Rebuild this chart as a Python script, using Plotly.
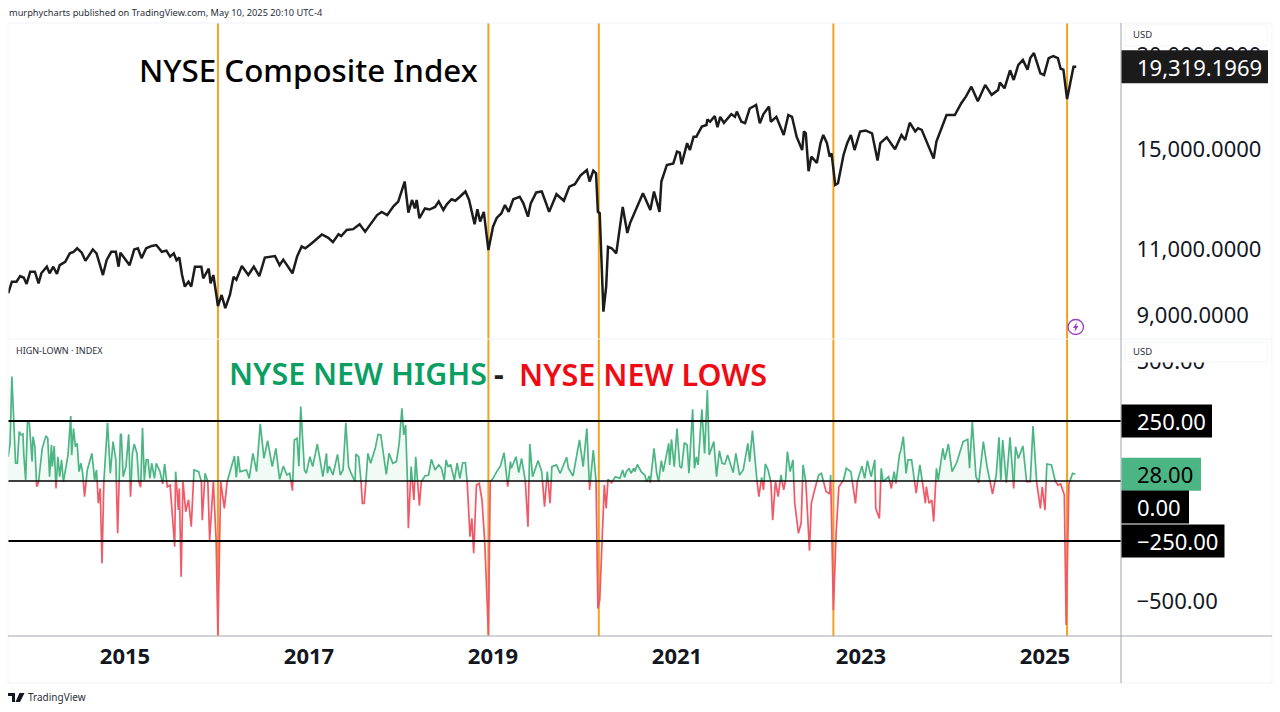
import math

import plotly.graph_objects as go

# NYSE Composite (decimal year, index level)
price_years = [2013.73,2013.77,2013.82,2013.86,2013.90,2013.93,2013.97,2014.02,2014.06,2014.09,2014.15,2014.18,2014.22,2014.26,2014.29,2014.35,2014.40,2014.44,2014.48,2014.53,2014.57,2014.60,2014.65,2014.69,2014.72,2014.76,2014.80,2014.85,2014.90,2014.93,2014.95,2015.01,2015.05,2015.10,2015.14,2015.18,2015.23,2015.29,2015.34,2015.40,2015.45,2015.49,2015.53,2015.56,2015.59,2015.62,2015.65,2015.69,2015.72,2015.76,2015.83,2015.85,2015.91,2015.93,2015.96,2015.99,2016.01,2016.05,2016.09,2016.14,2016.18,2016.21,2016.27,2016.34,2016.40,2016.46,2016.52,2016.63,2016.68,2016.72,2016.77,2016.82,2016.87,2016.92,2016.96,2017.03,2017.14,2017.21,2017.26,2017.32,2017.35,2017.41,2017.48,2017.55,2017.61,2017.66,2017.74,2017.79,2017.85,2017.92,2017.97,2018.04,2018.08,2018.12,2018.15,2018.17,2018.20,2018.26,2018.31,
    2018.37,2018.41,2018.46,2018.50,2018.55,2018.59,2018.64,2018.70,2018.74,2018.77,2018.80,2018.83,2018.86,2018.90,2018.95,2019.00,2019.04,2019.09,2019.13,2019.17,2019.22,2019.29,2019.33,2019.38,2019.41,2019.47,2019.53,2019.57,2019.61,2019.69,2019.77,2019.83,2019.89,2019.95,2020.02,2020.05,2020.09,2020.12,2020.14,2020.16,2020.20,2020.23,2020.25,2020.29,2020.34,2020.41,2020.46,2020.49,2020.54,2020.60,2020.63,2020.71,2020.75,2020.81,2020.83,2020.89,2020.96,2021.00,2021.03,2021.05,2021.11,2021.14,2021.18,2021.21,2021.27,2021.32,2021.33,2021.36,2021.41,2021.44,2021.47,2021.51,2021.59,2021.63,2021.65,2021.70,2021.74,2021.79,2021.86,2021.90,2021.94,2022.00,2022.02,2022.08,2022.16,2022.21,2022.25,2022.30,2022.36,2022.38,2022.40,2022.43,2022.46,2022.52,2022.56,2022.59,2022.63,2022.66,2022.68,2022.72,2022.75,2022.81,2022.85,2022.89,2022.93,
    2022.99,2023.05,2023.12,2023.14,2023.18,2023.21,2023.28,2023.37,2023.44,2023.48,2023.53,2023.59,2023.62,2023.66,2023.73,2023.79,2023.82,2023.88,2023.93,2024.02,2024.09,2024.14,2024.20,2024.27,2024.35,2024.42,2024.49,2024.51,2024.56,2024.62,2024.66,2024.71,2024.76,2024.81,2024.84,2024.88,2024.95,2024.99,2025.04,2025.09,2025.14,2025.17,2025.20,2025.24,2025.27,2025.31,2025.34]
price_values = [9620,9970,9970,10145,10090,9900,10280,10280,9920,10230,10440,10230,10440,10210,10490,10600,10880,10930,11050,10900,10630,10770,11010,10880,10540,10175,10650,10930,10930,10440,10900,10650,10490,11010,11050,10720,11050,11130,11160,10930,10970,10770,10880,10650,10740,10175,9820,9970,9820,10440,10440,10070,10380,9920,10175,9620,9250,9570,9190,9570,10120,10030,10460,10175,10440,10145,10740,10790,10490,10670,10440,10230,10770,11110,11050,11220,11530,11410,11260,11540,11470,11690,11720,11900,11630,11870,12240,12360,12240,12580,12760,13570,12330,12820,12490,12820,12120,12490,12450,
    12550,12760,12430,12660,12850,12790,12950,13160,12820,12360,11900,12460,12000,12360,10990,11810,12130,12300,12620,12360,12850,12950,12690,12180,12690,13120,13160,12760,12360,13050,12790,13360,13460,13820,14060,13570,14030,13920,12360,12310,9090,9820,11100,11050,10880,12550,11580,11940,12360,12820,13090,12430,13160,12360,13570,14280,14350,14880,14830,14310,15270,14950,15580,15580,16070,16150,16430,16310,16600,16040,16560,16260,16700,16560,16830,16310,16240,16990,17180,16240,16700,17090,16310,16560,15660,16650,16560,15580,14950,15830,15740,14010,14650,14370,15270,15660,15270,14650,14800,13430,13500,14725,15270,15660,14950,
    15830,15880,15740,15360,14480,15270,15550,14990,15660,15420,16260,15830,15990,15910,15190,14570,15350,16070,16650,16650,17270,17620,18170,17370,18270,17720,17990,18400,18080,19110,18550,19430,19730,19150,19840,20150,18930,18840,19840,19960,19840,19200,19150,17490,18270,19319.1969,19319.1969]

# New highs minus new lows
hl_years = [2013.73,2013.75,2013.77,2013.79,2013.81,2013.83,2013.85,2013.87,2013.89,2013.90,2013.92,2013.94,2013.96,2013.99,2014.00,2014.02,2014.04,2014.06,2014.08,2014.10,2014.14,2014.16,2014.18,2014.20,2014.21,2014.23,2014.25,2014.27,2014.29,2014.31,2014.33,2014.38,2014.41,2014.42,2014.44,2014.46,2014.48,2014.50,2014.52,2014.54,2014.56,2014.59,2014.64,2014.67,2014.69,2014.71,2014.73,2014.75,2014.77,2014.81,2014.84,2014.87,2014.90,2014.92,2014.95,2014.96,2014.98,2015.01,2015.04,2015.06,2015.08,2015.10,2015.13,2015.15,2015.17,2015.19,2015.21,2015.23,2015.25,2015.27,2015.29,2015.32,2015.34,2015.38,2015.41,2015.43,2015.46,2015.49,2015.54,2015.55,2015.58,2015.59,2015.61,2015.63,2015.66,2015.69,2015.72,2015.75,2015.80,2015.83,2015.84,2015.87,2015.90,2015.92,2015.96,2015.99,2016.01,2016.04,2016.08,2016.11,2016.15,2016.19,2016.21,2016.23,2016.25,2016.29,2016.32,2016.35,2016.39,2016.43,2016.47,2016.51,2016.55,2016.60,2016.64,2016.68,2016.72,2016.76,2016.79,2016.82,2016.84,2016.87,2016.89,
    2016.91,2016.95,2016.97,2017.01,2017.04,2017.09,2017.12,2017.15,2017.19,2017.20,2017.22,2017.26,2017.31,2017.34,2017.37,2017.40,2017.43,2017.45,2017.50,2017.51,2017.54,2017.56,2017.58,2017.60,2017.62,2017.64,2017.67,2017.72,2017.75,2017.78,2017.84,2017.87,2017.91,2017.95,2017.98,2018.01,2018.03,2018.05,2018.07,2018.08,2018.11,2018.14,2018.16,2018.20,2018.22,2018.26,2018.30,2018.33,2018.37,2018.41,2018.44,2018.47,2018.49,2018.51,2018.54,2018.58,2018.61,2018.64,2018.67,2018.70,2018.72,2018.75,2018.77,2018.79,2018.82,2018.85,2018.88,2018.91,2018.95,2018.97,2019.00,2019.04,2019.08,2019.12,2019.16,2019.19,2019.20,2019.25,2019.28,2019.31,2019.35,2019.38,2019.40,2019.43,2019.49,2019.53,2019.56,2019.59,2019.62,2019.64,2019.69,2019.73,2019.80,2019.82,2019.87,2019.94,2019.98,2020.02,2020.05,2020.09,2020.12,2020.14,
    2020.16,2020.19,2020.21,2020.23,2020.25,2020.29,2020.33,2020.38,2020.41,2020.43,2020.45,2020.48,2020.50,2020.53,2020.54,2020.57,2020.61,2020.65,2020.67,2020.70,2020.71,2020.75,2020.78,2020.80,2020.83,2020.85,2020.91,2020.92,2020.94,2020.97,2021.00,2021.03,2021.05,2021.08,2021.11,2021.13,2021.17,2021.19,2021.21,2021.23,2021.27,2021.30,2021.33,2021.35,2021.40,2021.43,2021.46,2021.49,2021.52,2021.55,2021.61,2021.64,2021.68,2021.72,2021.77,2021.79,2021.82,2021.87,2021.89,2021.92,2021.94,2021.96,2021.99,2022.02,2022.04,2022.07,2022.10,2022.13,2022.16,2022.18,2022.20,2022.23,2022.26,2022.28,2022.32,2022.35,2022.37,2022.40,2022.44,2022.46,2022.50,2022.54,2022.57,2022.62,2022.66,2022.67,2022.70,2022.73,2022.76,2022.81,2022.84,2022.89,2022.94,2022.96,2023.01,2023.04,2023.07,2023.11,2023.15,2023.16,2023.20,2023.22,2023.24,2023.30,2023.33,2023.36,2023.38,2023.40,2023.42,
    2023.43,2023.46,2023.49,2023.51,2023.55,2023.60,2023.62,2023.64,2023.67,2023.70,2023.71,2023.74,2023.77,2023.79,2023.82,2023.84,2023.89,2023.91,2023.95,2023.99,2024.04,2024.11,2024.16,2024.18,2024.21,2024.25,2024.28,2024.33,2024.37,2024.43,2024.47,2024.50,2024.52,2024.54,2024.58,2024.62,2024.66,2024.68,2024.71,2024.76,2024.80,2024.84,2024.87,2024.91,2024.95,2024.97,2025.00,2025.02,2025.07,2025.11,2025.14,2025.17,2025.21,2025.23,2025.26,2025.30,2025.33]
hl_values = [101,157,435,254,74,74,206,192,196,108,4,247,240,81,185,143,-24,-3,67,136,188,178,18,150,60,146,-31,101,18,88,-3,108,271,108,219,143,157,39,74,32,-65,46,115,4,46,-93,-31,-343,-3,243,32,164,88,-218,192,196,18,60,194,-65,115,154,115,-3,-26,222,4,88,88,11,74,11,74,39,-12,71,-24,-17,-274,39,-121,-31,-399,-3,-128,-79,-190,46,39,-3,-163,32,-3,-246,-3,-246,-642,-3,-114,-3,53,104,15,104,39,43,46,11,115,39,238,94,168,60,136,7,62,25,32,-40,171,178,62,
    310,46,32,101,60,154,88,18,115,32,62,25,111,25,46,243,60,39,-3,112,101,32,-93,-93,4,115,74,136,194,192,28,115,74,81,157,303,192,233,-3,-197,60,-79,101,-103,-3,21,25,90,46,67,53,4,88,62,67,4,74,11,76,76,-10,-232,-156,-301,-17,-10,-79,-253,-642,-3,11,39,62,118,-24,81,53,101,35,94,4,-190,154,18,85,39,-107,39,-93,60,67,32,99,53,21,171,60,219,-37,129,1,-531,
    -496,-246,-17,-114,7,-7,18,11,46,15,39,53,32,53,39,69,39,25,-3,21,-7,136,32,-3,85,39,157,67,174,60,219,62,53,160,150,32,299,53,101,67,299,115,379,108,164,18,126,74,71,108,35,115,25,46,157,81,210,-3,-65,15,-37,71,46,-3,-163,-3,-65,25,-37,4,122,39,88,-93,-218,-174,67,-3,-290,-93,-31,25,32,-44,-54,25,-538,-215,-24,4,53,39,-93,-3,62,11,85,18,88,-114,-156,53,-3,18,-31,39,-10,67,115,
    122,185,32,88,88,-51,11,67,-10,-93,-24,-93,-79,-169,53,4,136,88,154,39,76,164,174,53,247,18,-7,164,60,-54,25,182,4,171,-7,182,-31,143,94,146,-3,-3,229,-7,-114,-24,-121,71,67,1,-17,-12,-58,-600,-12,32,28]

hl_levels = [250, 0, -250]
event_years = [2016.01, 2018.95, 2020.15, 2022.70, 2025.24]

year_ticks = [2015, 2017, 2019, 2021, 2023, 2025]
price_ticks = [9000, 11000, 15000, 20000]
price_tick_text = ["9,000.0000", "11,000.0000", "15,000.0000", "20,000.0000"]
hl_ticks = [-500, 500]
hl_tick_text = ["\u2212500.00", "500.00"]

W, H = 1280, 712
LEFT, RIGHT_PLOT, RIGHT = 8, 1121, 1272
PRICE_TOP, PRICE_BOTTOM = 23, 338
PRICE_RANGE = [3.9234, 4.3445]
FONT = "Noto Sans"
INK = "#131722"
ORANGE = "#f0a31f"
GREEN = "#4cb584"
RED = "#ef5a68"


def px(x):
    return x / W


def py(y):
    return 1 - y / H


def split_baseline(xs, ys):
    # add the zero crossings, so the colour changes exactly on the baseline
    out_x, out_y = [xs[0]], [ys[0]]
    for i in range(1, len(xs)):
        if ys[i - 1] * ys[i] < 0:
            t = ys[i - 1] / (ys[i - 1] - ys[i])
            out_x.append(xs[i - 1] + t * (xs[i] - xs[i - 1]))
            out_y.append(0)
        out_x.append(xs[i])
        out_y.append(ys[i])
    return out_x, out_y


fig = go.Figure()

hl_x, hl_y = split_baseline(hl_years, hl_values)
fig.add_trace(go.Scatter(x=hl_x, y=[max(v, 0) for v in hl_y], yaxis="y2", mode="none", fill="tozeroy",
                         fillcolor="rgba(76,181,132,0.07)", hoverinfo="skip"))
fig.add_trace(go.Scatter(x=hl_x, y=[min(v, 0) for v in hl_y], yaxis="y2", mode="none", fill="tozeroy",
                         fillcolor="rgba(239,90,104,0.05)", hoverinfo="skip"))
fig.add_trace(go.Scatter(x=hl_x, y=[v if v >= 0 else None for v in hl_y], yaxis="y2", mode="lines",
                         line=dict(color=GREEN, width=1.7), hoverinfo="skip"))
fig.add_trace(go.Scatter(x=hl_x, y=[v if v <= 0 else None for v in hl_y], yaxis="y2", mode="lines",
                         line=dict(color=RED, width=1.7), hoverinfo="skip"))
fig.add_trace(go.Scatter(x=price_years, y=price_values, mode="lines",
                         line=dict(color="#1c1c1c", width=2.5), hoverinfo="skip"))

x_range = [2013.641 + LEFT * 0.01087, 2013.641 + RIGHT_PLOT * 0.01087]
for level in hl_levels:
    fig.add_trace(go.Scatter(x=x_range, y=[level, level], yaxis="y2", mode="lines",
                             line=dict(color="#000000", width=1.6 if level == 0 else 2.2), hoverinfo="skip"))

shapes = []
# event lines run through both panes
for yr in event_years:
    shapes.append(dict(type="line", xref="x", yref="paper", x0=yr, x1=yr, y0=py(636), y1=py(PRICE_TOP),
                       line=dict(color=ORANGE, width=2), layer="below"))

# frame and pane separators
frame = "#f0f3fa"
axis_grey = "#a3a6af"
shapes += [
    dict(type="line", xref="paper", yref="paper", x0=px(LEFT), x1=px(RIGHT), y0=py(23), y1=py(23), line=dict(color=frame, width=1)),
    dict(type="line", xref="paper", yref="paper", x0=px(LEFT), x1=px(LEFT), y0=py(683), y1=py(23), line=dict(color=frame, width=1)),
    dict(type="line", xref="paper", yref="paper", x0=px(RIGHT), x1=px(RIGHT), y0=py(683), y1=py(23), line=dict(color=frame, width=1)),
    dict(type="line", xref="paper", yref="paper", x0=px(LEFT), x1=px(RIGHT), y0=py(683), y1=py(683), line=dict(color=frame, width=1)),
    dict(type="line", xref="paper", yref="paper", x0=px(LEFT), x1=px(RIGHT), y0=py(339), y1=py(339), line=dict(color=frame, width=1)),
    dict(type="line", xref="paper", yref="paper", x0=px(LEFT), x1=px(RIGHT), y0=py(636), y1=py(636), line=dict(color=axis_grey, width=1)),
    dict(type="line", xref="paper", yref="paper", x0=px(RIGHT_PLOT), x1=px(RIGHT_PLOT), y0=py(683), y1=py(23), line=dict(color=axis_grey, width=1)),
]

annotations = []


def note(text, x, y, size, color=INK, weight=400):
    annotations.append(dict(text=text, xref="paper", yref="paper", x=px(x), y=py(y), xanchor="left", yanchor="middle",
                            showarrow=False, borderpad=0, font=dict(family=FONT, size=size, color=color, weight=weight)))


# USD boxes hide the top of the highest tick, as on the original
for top, bottom in [(25, 46), (342, 362)]:
    shapes.append(dict(type="rect", xref="paper", yref="paper", x0=px(1125), x1=px(1267), y0=py(bottom), y1=py(top),
                       fillcolor="#ffffff", line=dict(color="#f4f5f9", width=1)))
    note("USD", 1132, (top + bottom) / 2 - 0.5, 9.5, "#2a2e39")

# last price box, placed by hand on the log scale because a pixel sized shape drifts there
last_price = price_values[-1]
price_frac = (math.log10(last_price) - PRICE_RANGE[0]) / (PRICE_RANGE[1] - PRICE_RANGE[0])
price_px = PRICE_BOTTOM - price_frac * (PRICE_BOTTOM - PRICE_TOP)
shapes.append(dict(type="rect", xref="paper", yref="paper", x0=px(RIGHT_PLOT + 0.5), x1=px(1268),
                   y0=py(price_px + 16.5), y1=py(price_px - 16.5), fillcolor="#1b1b1b", line=dict(width=0)))
note("19,319.1969", 1136, price_px, 22, "#ffffff")

# value boxes on the lower scale
boxes = [
    (250, "250.00", 1212, "#000000", "#ffffff", 0),
    (28, "28.00", 1201, GREEN, "#000000", 0),
    (0, "0.00", 1189, "#000000", "#ffffff", -26),
    (-250, "\u2212250.00", 1224.5, "#000000", "#ffffff", 0),
]
for value, label, x_end, fill, text_color, shift in boxes:
    shapes.append(dict(type="rect", xref="paper", yref="y2", x0=px(RIGHT_PLOT + 0.5), x1=px(x_end), ysizemode="pixel", yanchor=value,
                       y0=shift - 16.5, y1=shift + 16.5, fillcolor=fill, line=dict(width=0)))
    annotations.append(dict(text=label, xref="paper", yref="y2", x=px(1136), y=value, xanchor="left", yanchor="middle",
                            yshift=shift, showarrow=False, borderpad=0,
                            font=dict(family=FONT, size=22, color=text_color)))

note("murphycharts published on TradingView.com, May 10, 2025 20:10 UTC-4", 8, 12, 9.25, "#2a2e39")
note("HIGN-LOWN \u00b7 INDEX", 15, 350.5, 9, "#2a2e39")
note("NYSE Composite Index", 138, 69.5, 31.3, "#000000", 500)
note("NYSE NEW HIGHS", 228, 373.5, 30.4, "#0b9e63", 600)
note("-", 493, 373.5, 30.4, "#222222", 700)
note("NYSE NEW LOWS", 518, 373.5, 30.5, "#f00a14", 600)
note("TradingView", 27, 697, 10, "#2a2e39")

# logo and the purple flash mark
shapes.append(dict(type="path", xref="paper", yref="paper", fillcolor="#131722", line=dict(width=0),
                   path=f"M {px(8)} {py(693)} L {px(15)} {py(693)} L {px(15)} {py(702)} L {px(12)} {py(702)} L {px(12)} {py(696)} L {px(8)} {py(696)} Z "
                        f"M {px(15.5)} {py(702)} L {px(19.5)} {py(693)} L {px(24.5)} {py(693)} L {px(20)} {py(702)} Z"))
shapes.append(dict(type="circle", xref="paper", yref="paper", x0=px(1068), x1=px(1083.5), y0=py(334.5), y1=py(319.5),
                   fillcolor="#ffffff", line=dict(color="#9c3fc0", width=1.3)))
shapes.append(dict(type="path", xref="paper", yref="paper", fillcolor="#9c3fc0", line=dict(width=0),
                   path=f"M {px(1077)} {py(322)} L {px(1073)} {py(328)} L {px(1075.2)} {py(328)} L {px(1074.5)} {py(332)} L {px(1078.5)} {py(326)} L {px(1076.2)} {py(326)} Z"))

fig.update_layout(
    width=W,
    height=H,
    margin=dict(l=0, r=0, t=0, b=0),
    paper_bgcolor="#ffffff",
    plot_bgcolor="#ffffff",
    showlegend=False,
    shapes=shapes,
    annotations=annotations,
    xaxis=dict(domain=[px(LEFT), px(RIGHT_PLOT)], range=x_range, anchor="y2", tickmode="array", tickvals=year_ticks,
               ticktext=[str(y) for y in year_ticks], showgrid=False, zeroline=False, ticks="outside", ticklen=1,
               tickcolor="rgba(0,0,0,0)", tickfont=dict(family=FONT, size=22, color=INK, weight=700)),
    yaxis=dict(domain=[py(PRICE_BOTTOM), py(PRICE_TOP)], type="log", range=PRICE_RANGE, side="right", anchor="x",
               tickmode="array", tickvals=price_ticks, ticktext=price_tick_text, showgrid=False, zeroline=False,
               ticks="outside", ticklen=10, tickcolor="rgba(0,0,0,0)", tickfont=dict(family=FONT, size=22, color=INK)),
    yaxis2=dict(domain=[py(636), py(340)], range=[-645.8, 587.5], side="right", anchor="x",
                tickmode="array", tickvals=hl_ticks, ticktext=hl_tick_text, showgrid=False, zeroline=False,
                ticks="outside", ticklen=10, tickcolor="rgba(0,0,0,0)", tickfont=dict(family=FONT, size=22, color=INK)),
)

fig.write_html("out.html", config={"displayModeBar": False}, post_script="document.body.style.margin='0'")
